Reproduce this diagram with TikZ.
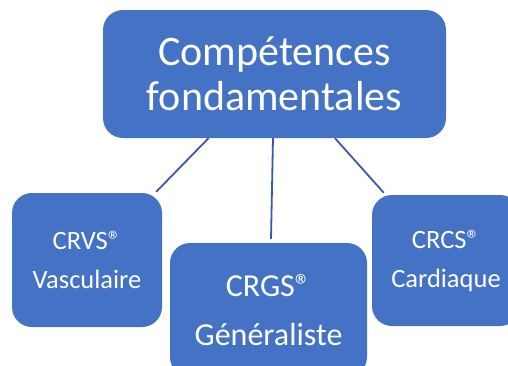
\documentclass[tikz,border=0pt]{standalone}
\usepackage{fontspec}
\setmainfont{Carlito}
\definecolor{boxblue}{HTML}{4472C4}
\definecolor{lineblue}{HTML}{3A5BA0}
\tikzset{
  bluebox/.style={fill=boxblue, draw=none, rounded corners=20pt, text=white, align=center, inner sep=0pt},
  link/.style={draw=lineblue, line width=1.8pt}
}
\newcommand{\regmark}{®}
\begin{document}
\begin{tikzpicture}[x=1pt,y=-1pt]
\useasboundingbox (0,0) rectangle (508,365);
\clip (0,0) rectangle (508,365);
\node[bluebox, minimum width=343pt, minimum height=128pt, font=\fontsize{42}{45}\selectfont] (top) at (274.5,74) {Compétences\\fondamentales};
\node[bluebox, minimum width=150pt, minimum height=134pt, font=\fontsize{26.5}{39}\selectfont] (vasc) at (87,260) {CRVS\regmark\\Vasculaire};
\node[bluebox, minimum width=197pt, minimum height=134pt, font=\fontsize{32}{49}\selectfont] (gen) at (268.5,310) {CRGS\regmark\\Généraliste};
\node[bluebox, minimum width=148pt, minimum height=131pt, font=\fontsize{26.5}{39}\selectfont] (card) at (446,260.5) {CRCS\regmark\\Cardiaque};
\draw[link] ([xshift=-66pt]top.south) -- ([xshift=-6pt,yshift=1pt]vasc.north east);
\draw[link] ([xshift=-1.5pt]top.south) -- ([xshift=2.5pt,yshift=4pt]gen.north);
\draw[link] ([xshift=60.5pt]top.south) -- ([xshift=12pt,yshift=2pt]card.north west);
\end{tikzpicture}
\end{document}
